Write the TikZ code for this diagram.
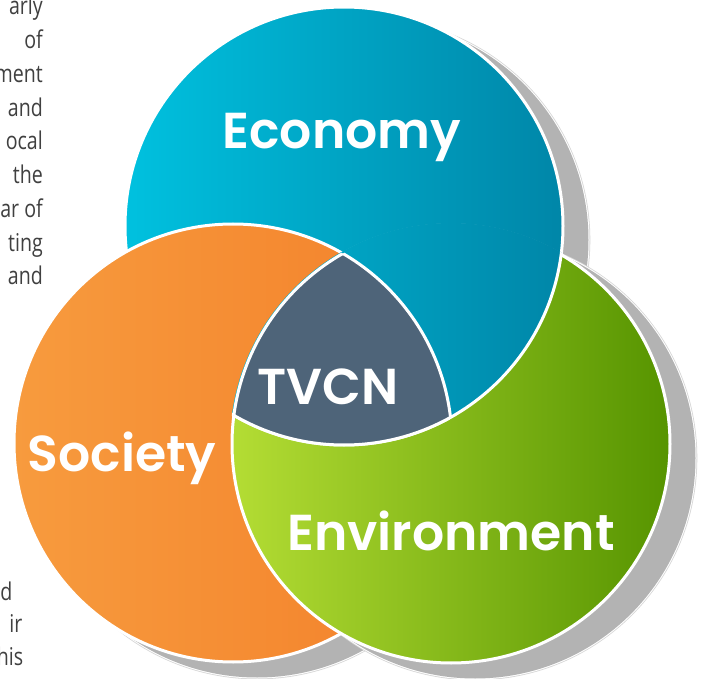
\documentclass[tikz,border=0pt]{standalone}
\usepackage{fontspec}
\setmainfont{Open Sans}
\newfontfamily\sidefont[FakeStretch=0.8]{Open Sans}
\newfontfamily\labelfont{Poppins SemiBold}
\definecolor{ecoL}{RGB}{0,193,223}
\definecolor{ecoR}{RGB}{0,134,168}
\definecolor{socL}{RGB}{247,155,62}
\definecolor{socR}{RGB}{243,128,42}
\definecolor{envL}{RGB}{180,221,52}
\definecolor{envR}{RGB}{86,148,0}
\definecolor{tvcn}{RGB}{78,100,121}
\definecolor{shadowgray}{RGB}{179,179,179}
\definecolor{shadowline}{RGB}{214,214,214}
\definecolor{sidetext}{RGB}{64,64,64}
\tikzset{
  ring/.style={draw=white, line width=3pt},
  biglabel/.style={text=white, font=\labelfont\fontsize{50.5}{50.5}\selectfont, inner sep=0pt},
  sidelabel/.style={text=sidetext, font=\sidefont\fontsize{24.5}{24.5}\selectfont, inner sep=0pt, anchor=base east},
}
\begin{document}
\begin{tikzpicture}[x=1pt,y=-1pt]
\useasboundingbox (0,0) rectangle (702,679);
\fill[white] (0,0) rectangle (702,679);
\coordinate (E) at (344,226);
\coordinate (S) at (233,443);
\coordinate (V) at (451,444);
\def\R{219pt}
% shadows
\foreach \c in {E,S,V}{
  \fill[shadowline] ([shift={(24,14)}]\c) circle[radius=222.3pt];
  \fill[white] ([shift={(24,14)}]\c) circle[radius=221.5pt];
  \fill[shadowgray] ([shift={(24,14)}]\c) circle[radius=220.5pt];
}
% circles, cyclic layering
\shade[left color=ecoL, right color=ecoR] (E) circle[radius=\R];
\draw[ring] (E) circle[radius=\R];
\shade[left color=socL, right color=socR] (S) circle[radius=\R];
\draw[ring] (S) circle[radius=\R];
\shade[left color=envL, right color=envR] (V) circle[radius=\R];
\draw[ring] (V) circle[radius=\R];
\begin{scope}
  \clip (V) circle[radius=221pt];
  \shade[left color=ecoL, right color=ecoR] (E) circle[radius=\R];
  \draw[ring] (E) circle[radius=\R];
\end{scope}
% centre
\begin{scope}
  \clip (E) circle[radius=\R];
  \clip (S) circle[radius=\R];
  \fill[tvcn] (V) circle[radius=\R];
\end{scope}
\begin{scope}
  \clip (S) circle[radius=\R];
  \clip (V) circle[radius=\R];
  \draw[ring] (E) circle[radius=\R];
\end{scope}
\begin{scope}
  \clip (E) circle[radius=\R];
  \clip (V) circle[radius=\R];
  \draw[ring] (S) circle[radius=\R];
\end{scope}
\begin{scope}
  \clip (E) circle[radius=\R];
  \clip (S) circle[radius=\R];
  \draw[ring] (V) circle[radius=\R];
\end{scope}
% labels
\node[biglabel] (eco) at (342,137) {Economy};
\node[biglabel] (soc) at (122,458) {Society};
\node[biglabel] (env) at (451,531) {Environment};
\node[biglabel] (tv) at (328,387) {TVCN};
% cut-off side text
\node[sidelabel] (t1) at (43,15) {arly};
\node[sidelabel] (t2) at (43,48.75) {of};
\node[sidelabel] (t3) at (43,82.5) {ment};
\node[sidelabel] (t4) at (43,116.25) {and};
\node[sidelabel] (t5) at (43,150) {ocal};
\node[sidelabel] (t6) at (43,183.75) {the};
\node[sidelabel] (t7) at (43,217.5) {ar of};
\node[sidelabel] (t8) at (43,251.25) {ting};
\node[sidelabel] (t9) at (43,285) {and};
\node[sidelabel] (b1) at (12.5,600) {d};
\node[sidelabel] (b2) at (22.5,632) {ir};
\node[sidelabel] (b3) at (23.5,665) {his};
\end{tikzpicture}
\end{document}
